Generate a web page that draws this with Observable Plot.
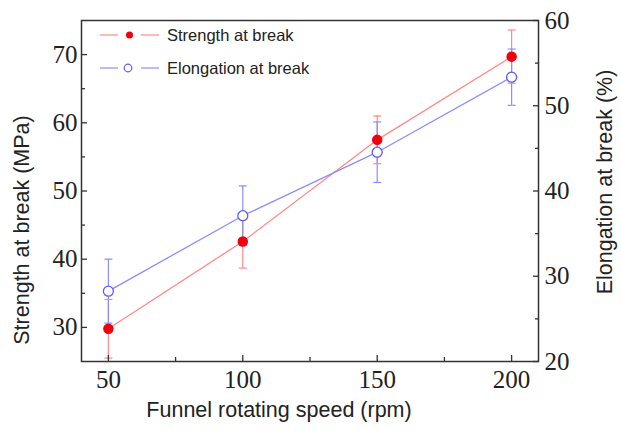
<!DOCTYPE html>
<html>
<head>
<meta charset="utf-8">
<script src="https://cdn.jsdelivr.net/npm/d3@7"></script>
<script src="https://cdn.jsdelivr.net/npm/@observablehq/plot@0.6"></script>
<style>
  html, body { margin: 0; padding: 0; background: #fff; }
  #chart { position: relative; width: 621px; height: 431px; }
</style>
</head>
<body>
<div id="chart"></div>
<script>
// ---- data ----
const speeds = [50, 100, 150, 200];
const strength = [29.8, 42.6, 57.5, 69.7];
const strengthErr = [4.3, 3.9, 3.5, 3.9];
const elongation = [28.25, 37.1, 44.55, 53.35];
const elongationErr = [3.75, 3.5, 3.55, 3.3];
const leftTicks = [30, 40, 50, 60, 70];
const leftMinor = [35, 45, 55, 65];
const rightTicks = [20, 30, 40, 50, 60];
const rightMinor = [25, 35, 45, 55];
const xTicks = [50, 100, 150, 200];
const xMinor = [75, 125, 175];

const leftDomain = [25, 75];
const rightDomain = [20, 60];
// map right-axis values onto the left scale
const toLeft = v => leftDomain[0] + (v - rightDomain[0]) * (leftDomain[1] - leftDomain[0]) / (rightDomain[1] - rightDomain[0]);
const fromLeft = v => rightDomain[0] + (v - leftDomain[0]) * (rightDomain[1] - rightDomain[0]) / (leftDomain[1] - leftDomain[0]);

const sData = speeds.map((x, i) => ({x, y: strength[i], lo: strength[i] - strengthErr[i], hi: strength[i] + strengthErr[i]}));
const eData = speeds.map((x, i) => ({x, y: toLeft(elongation[i]), lo: toLeft(elongation[i] - elongationErr[i]), hi: toLeft(elongation[i] + elongationErr[i])}));

const redLine = "#ff8a8a";
const redDot = "#ee0010";
const blueLine = "#8c8cff";
const blueDot = "#5a5aff";

// horizontal cap symbol for error bars
const capSymbol = {
  draw(ctx, size) {
    const r = Math.sqrt(size / Math.PI);
    ctx.moveTo(-r, 0);
    ctx.lineTo(r, 0);
  }
};

const serif = "'Liberation Serif', 'Times New Roman', serif";
const sans = "'Liberation Sans', Arial, sans-serif";
const titleSize = 21.5;

const plot = Plot.plot({
  width: 621,
  height: 431,
  marginLeft: 81,
  marginRight: 83,
  marginTop: 20,
  marginBottom: 70,
  style: {fontFamily: serif, fontSize: "25px", color: "#222", background: "#fff", overflow: "visible"},
  x: {domain: [40, 210]},
  y: {domain: leftDomain},
  marks: [
    // lines
    Plot.line(sData, {x: "x", y: "y", stroke: redLine, strokeWidth: 1.3}),
    Plot.line(eData, {x: "x", y: "y", stroke: blueLine, strokeWidth: 1.3}),
    // error bars
    Plot.ruleX(sData, {x: "x", y1: "lo", y2: "hi", stroke: redLine, strokeWidth: 1.2}),
    Plot.ruleX(eData, {x: "x", y1: "lo", y2: "hi", stroke: blueLine, strokeWidth: 1.2}),
    Plot.dot(sData, {x: "x", y: "lo", symbol: capSymbol, r: 4, stroke: redLine, strokeWidth: 1.2, fill: "none"}),
    Plot.dot(sData, {x: "x", y: "hi", symbol: capSymbol, r: 4, stroke: redLine, strokeWidth: 1.2, fill: "none"}),
    Plot.dot(eData, {x: "x", y: "lo", symbol: capSymbol, r: 4, stroke: blueLine, strokeWidth: 1.2, fill: "none"}),
    Plot.dot(eData, {x: "x", y: "hi", symbol: capSymbol, r: 4, stroke: blueLine, strokeWidth: 1.2, fill: "none"}),
    // markers
    Plot.dot(sData, {x: "x", y: "y", r: 4.5, fill: redDot, stroke: redDot}),
    Plot.dot(eData, {x: "x", y: "y", r: 5, fill: "white", stroke: blueDot, strokeWidth: 1.3}),
    // frame
    Plot.frame({stroke: "#333", strokeWidth: 1.5}),
    // inward ticks
    Plot.axisX({ticks: xTicks, tickSize: -6, tickFormat: () => "", label: null, stroke: "#333", strokeWidth: 1.3}),
    Plot.axisX({ticks: xMinor, tickSize: -4, tickFormat: () => "", label: null, stroke: "#333", strokeWidth: 1.3}),
    Plot.axisY({ticks: leftTicks, tickSize: -6, tickFormat: () => "", label: null, stroke: "#333", strokeWidth: 1.3}),
    Plot.axisY({ticks: leftMinor, tickSize: -4, tickFormat: () => "", label: null, stroke: "#333", strokeWidth: 1.3}),
    Plot.axisY({anchor: "right", ticks: rightTicks.map(toLeft), tickSize: -6, tickFormat: () => "", label: null, stroke: "#333", strokeWidth: 1.3}),
    Plot.axisY({anchor: "right", ticks: rightMinor.map(toLeft), tickSize: -4, tickFormat: () => "", label: null, stroke: "#333", strokeWidth: 1.3}),
    // tick labels
    Plot.axisX({ticks: xTicks, tickSize: 0, tickPadding: 9, label: null, fill: "#222"}),
    Plot.axisY({ticks: leftTicks, tickSize: 0, tickPadding: 4, label: null, fill: "#222"}),
    Plot.axisY({anchor: "right", ticks: rightTicks.map(toLeft), tickSize: 0, tickPadding: 6, label: null, fill: "#222", tickFormat: d => String(Math.round(fromLeft(d)))}),
    // axis titles
    Plot.text(["Funnel rotating speed (rpm)"], {frameAnchor: "bottom", textAnchor: "middle", dx: -31, dy: 55, fontFamily: sans, fontSize: titleSize, fill: "#222"}),
    Plot.text(["Strength at break (MPa)"], {frameAnchor: "left", textAnchor: "middle", dx: -59, dy: 39, rotate: -90, fontFamily: sans, fontSize: titleSize, fill: "#222"}),
    Plot.text(["Elongation at break (%)"], {frameAnchor: "right", textAnchor: "middle", dx: 67, dy: -9, rotate: -90, fontFamily: sans, fontSize: titleSize, fill: "#222"})
  ]
});

document.getElementById("chart").appendChild(plot);

// legend (inside plot, top-left)
const svg = d3.select(plot);
const lg = svg.append("g").attr("font-family", sans).attr("font-size", 16.5).attr("fill", "#222").attr("text-anchor", "start");
const rows = [
  {label: "Strength at break", y: 35, line: redLine, kind: "filled"},
  {label: "Elongation at break", y: 68, line: blueLine, kind: "open"}
];
rows.forEach(r => {
  lg.append("line").attr("x1", 100).attr("x2", 118).attr("y1", r.y).attr("y2", r.y).attr("stroke", r.line).attr("stroke-width", 1.2);
  lg.append("line").attr("x1", 141).attr("x2", 159).attr("y1", r.y).attr("y2", r.y).attr("stroke", r.line).attr("stroke-width", 1.2);
  if (r.kind === "filled") {
    lg.append("circle").attr("cx", 129.5).attr("cy", r.y).attr("r", 3.5).attr("fill", redDot);
  } else {
    lg.append("circle").attr("cx", 128).attr("cy", r.y).attr("r", 3.8).attr("fill", "white").attr("stroke", blueDot).attr("stroke-width", 1.2);
  }
  lg.append("text").attr("x", 167).attr("y", r.y).attr("dy", "0.35em").attr("text-anchor", "start").text(r.label);
});
</script>
</body>
</html>
